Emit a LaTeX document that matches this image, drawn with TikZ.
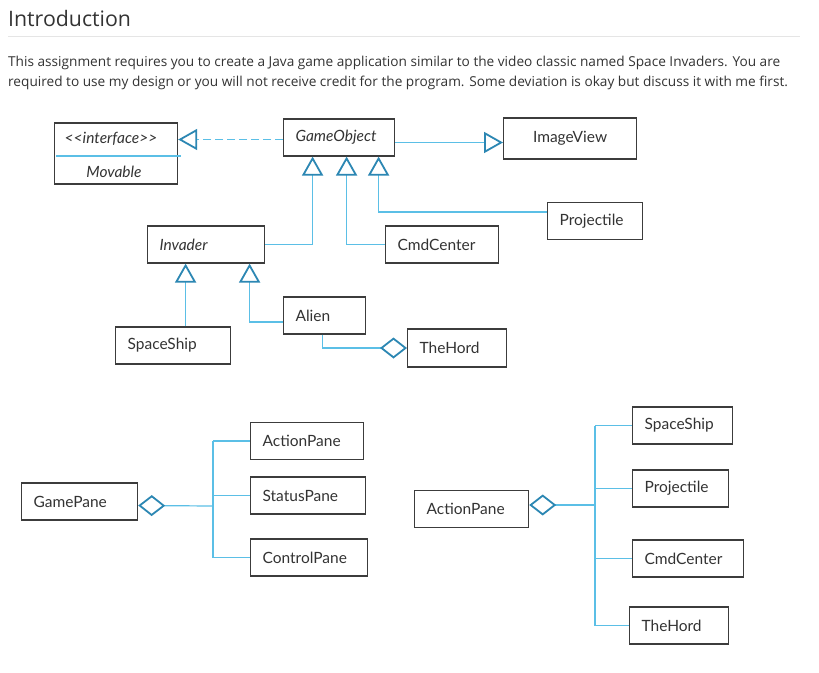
\documentclass[tikz,border=0pt]{standalone}
\usepackage{fontspec}
\setmainfont{Open Sans}
\newfontfamily\diagfont{Lato}
\usetikzlibrary{arrows.meta}
\definecolor{lineblue}{HTML}{5BBFE6}
\definecolor{tipblue}{HTML}{2C87B3}
\definecolor{boxgray}{HTML}{3C3C3C}
\definecolor{inkgray}{HTML}{333333}
\definecolor{rulegray}{HTML}{E5E5E5}

\begin{document}
\begin{tikzpicture}[x=1pt, y=-1pt,
	cls/.style={draw=boxgray, line width=1.2pt, minimum height=37pt, inner xsep=12pt, inner ysep=0pt,
		anchor=west, align=left, text=inkgray, font=\diagfont\fontsize{15.5}{17}\selectfont},
	gen/.style={draw=lineblue, line width=1.2pt,
		-{Triangle[open, length=19pt, width=21pt, line width=1.8pt, color=tipblue]}},
	agg/.style={draw=lineblue, line width=1.2pt,
		{Diamond[open, length=27pt, width=21pt, line width=1.8pt, color=tipblue]}-},
	aggend/.style={draw=lineblue, line width=1.2pt,
		-{Diamond[open, length=27pt, width=21pt, line width=1.8pt, color=tipblue]}},
	bus/.style={draw=lineblue, line width=1.2pt}]
	\useasboundingbox[fill=white] (0,0) rectangle (819,672);

	\node[anchor=base west, inner sep=0pt, text=inkgray, font=\fontsize{21.3}{25}\selectfont] (title) at (8,26) {Introduction};
	\draw[rulegray, line width=1pt] (8,36) -- (800,36);
	\node[anchor=base west, inner sep=0pt, text=inkgray, font=\fontsize{13.65}{20}\selectfont] (line1) at (8,66)
		{This assignment requires you to create a Java game application similar to the video classic named Space Invaders. You are};
	\node[anchor=base west, inner sep=0pt, text=inkgray, font=\fontsize{13.65}{20}\selectfont] (line2) at (8,86)
		{required to use my design or you will not receive credit for the program. Some deviation is okay but discuss it with me first.};

	% inheritance
	\node[cls, minimum width=123pt, minimum height=61pt] (movable) at (54,153.5) {};
	\node[inner sep=0pt, text=inkgray, font=\diagfont\itshape\fontsize{15.5}{17}\selectfont] (stereo) at (111,139) {<<interface>>};
	\node[inner sep=0pt, text=inkgray, font=\diagfont\itshape\fontsize{15.5}{17}\selectfont] (movname) at (114,172) {Movable};
	\draw[bus] (56,156) -- (181,156);
	\node[cls, text width=87pt] (go) at (283,137.5) {\itshape GameObject};
	\node[cls, text width=109pt, minimum height=41pt, align=center] (iv) at (503,138.5) {ImageView};
	\node[cls, text width=71pt] (proj1) at (547,221) {Projectile};
	\node[cls, text width=93pt] (inv) at (147,244.5) {\itshape Invader};
	\node[cls, text width=89pt] (cmd1) at (385,244.5) {CmdCenter};
	\node[cls, text width=91pt] (ship1) at (115,345.5) {SpaceShip};
	\node[cls, text width=58pt] (alien) at (283,315.5) {Alien};
	\node[cls, text width=75pt, minimum height=38pt] (hord1) at (407,348) {TheHord};

	\draw[gen, dash pattern=on 8pt off 4pt] ([yshift=-2pt]go.west) -- ([yshift=-2pt]go.west -| movable.east);
	\draw[gen] ([yshift=-5pt]go.east) -- ([yshift=-5pt]go.east -| iv.west);
	\draw[gen] (inv.east) -| ([xshift=-26.5pt]go.south);
	\draw[gen] (cmd1.west) -| ([xshift=7.5pt]go.south);
	\draw[gen] ([yshift=9pt]proj1.west) -| ([xshift=39.5pt]go.south);
	\draw[gen] ([xshift=12.5pt]ship1.north) -- ([xshift=12.5pt]ship1.north |- inv.south);
	\draw[gen] ([yshift=-6.5pt]alien.west) -| ([xshift=43.5pt]inv.south);
	\draw[aggend] ([xshift=-2pt]alien.south) |- (hord1.west);

	% GamePane
	\node[cls, text width=92pt] (gp) at (21,501.5) {GamePane};
	\node[cls, text width=89pt] (ap1) at (250,441) {ActionPane};
	\node[cls, text width=91pt] (sp) at (250,495.5) {StatusPane};
	\node[cls, text width=93pt] (cp) at (250,557.5) {ControlPane};
	\coordinate (gpbus) at (213,506);
	\draw[agg] ([yshift=-4pt]gp.east) -- (gpbus);
	\draw[bus] (gpbus |- ap1.west) -- (gpbus |- cp.west);
	\foreach \n in {ap1,sp,cp}
		\draw[bus] (gpbus |- \n.west) -- (\n.west);

	% ActionPane
	\node[cls, text width=90pt] (ap2) at (414,509) {ActionPane};
	\node[cls, text width=76pt] (ship2) at (632,425.5) {SpaceShip};
	\node[cls, text width=72pt] (proj2) at (632,488.5) {Projectile};
	\node[cls, text width=87pt] (cmd2) at (632,558.5) {CmdCenter};
	\node[cls, text width=75pt] (hord2) at (629,625.5) {TheHord};
	\coordinate (apbus) at (595,505);
	\draw[agg] ([yshift=4pt]ap2.east) -- (apbus);
	\draw[bus] (apbus |- ship2.west) -- (apbus |- hord2.west);
	\foreach \n in {ship2,proj2,cmd2,hord2}
		\draw[bus] (apbus |- \n.west) -- (\n.west);
\end{tikzpicture}
\end{document}
